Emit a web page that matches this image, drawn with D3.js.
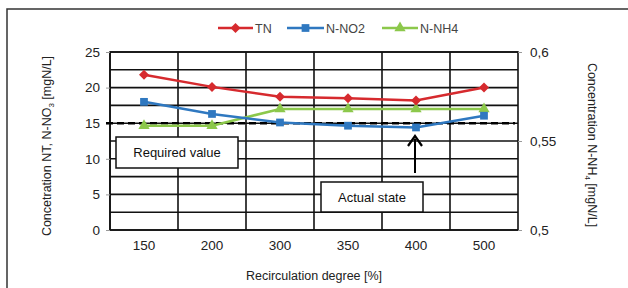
<!DOCTYPE html>
<html><head><meta charset="utf-8">
<script src="https://cdn.jsdelivr.net/npm/d3@7"></script>
<style>body{margin:0;background:#fff}svg{display:block;font-family:"Liberation Sans",Arial,sans-serif}</style>
</head><body><svg id="c" width="628" height="288"></svg>
<script>
const categories = ["150","200","300","350","400","500"];
const tnValues = [21.8, 20.1, 18.7, 18.5, 18.2, 20.0];
const no2Values = [18.0, 16.3, 15.1, 14.65, 14.4, 16.05];
const nh4Values = [0.5586, 0.5586, 0.568, 0.568, 0.568, 0.568];
const leftTicks = [0, 5, 10, 15, 20, 25];
const rightTicks = [0.5, 0.55, 0.6];
const requiredValue = 15;

const svg = d3.select("#c");
const L = 110, R = 518, T = 52, B = 230;
const x = d3.scaleBand().domain(categories).range([L, R]);
const yL = d3.scaleLinear().domain([0, 25]).range([B, T]);
const yR = d3.scaleLinear().domain([0.5, 0.6]).range([B, T]);

// outer frame
svg.append("path").attr("d", "M7,290 V9 H628").attr("fill", "none").attr("stroke", "#333").attr("stroke-width", 1.5);

const g = svg.append("g");
d3.range(0, 25.01, 2.5).forEach(v => {
  g.append("line").attr("x1", L).attr("x2", R).attr("y1", yL(v)).attr("y2", yL(v))
    .attr("stroke", "#111").attr("stroke-width", 1.6);
});
categories.forEach((c, i) => {
  g.append("line").attr("x1", x(c)).attr("x2", x(c)).attr("y1", T).attr("y2", B)
    .attr("stroke", "#111").attr("stroke-width", 1.6);
});
g.append("rect").attr("x", L).attr("y", T).attr("width", R - L).attr("height", B - T)
  .attr("fill", "none").attr("stroke", "#111").attr("stroke-width", 1.6);

// axes
const axL = svg.append("g").attr("transform", `translate(${L},0)`)
  .call(d3.axisLeft(yL).tickValues(leftTicks).tickSize(4).tickPadding(6).tickFormat(d3.format("d")));
const axR = svg.append("g").attr("transform", `translate(${R},0)`)
  .call(d3.axisRight(yR).tickValues(rightTicks).tickSize(4).tickPadding(8).tickFormat(d => String(d).replace(".", ",")));
const axB = svg.append("g").attr("transform", `translate(0,${B})`)
  .call(d3.axisBottom(x).tickSize(0).tickPadding(10));
[axL, axR, axB].forEach(a => {
  a.select(".domain").remove();
  a.selectAll("text").attr("font-size", 13.5).attr("fill", "#222").attr("font-family", "Liberation Sans, Arial, sans-serif");
  a.selectAll("line").attr("stroke", "#999");
});

// required value dashed line
svg.append("line").attr("x1", L - 4).attr("x2", R - 3).attr("y1", yL(requiredValue)).attr("y2", yL(requiredValue))
  .attr("stroke", "#000").attr("stroke-width", 2.5).attr("stroke-dasharray", "7,4");

// series
const cx = c => x(c) + x.bandwidth() / 2;
const series = [
  {name: "TN", color: "#d62a2e", vals: tnValues, y: yL, sym: d3.symbolSquare, size: 50, rot: 45},
  {name: "N-NO2", color: "#2f78c0", vals: no2Values, y: yL, sym: d3.symbolSquare, size: 60, rot: 0},
  {name: "N-NH4", color: "#8cc84b", vals: nh4Values, y: yR, sym: d3.symbolTriangle, size: 55, rot: 0}
];
const order = [series[2], series[1], series[0]];
order.forEach(s => {
  const line = d3.line().x((d, i) => cx(categories[i])).y(d => s.y(d));
  svg.append("path").datum(s.vals).attr("d", line).attr("fill", "none")
    .attr("stroke", s.color).attr("stroke-width", 2.5);
  svg.selectAll(null).data(s.vals).enter().append("path")
    .attr("d", d3.symbol().type(s.sym).size(s.size))
    .attr("transform", (d, i) => `translate(${cx(categories[i])},${s.y(d)}) rotate(${s.rot})`)
    .attr("fill", s.color);
});

// annotation boxes
function box(x0, y0, w, h, text) {
  svg.append("rect").attr("x", x0).attr("y", y0).attr("width", w).attr("height", h)
    .attr("fill", "#fff").attr("stroke", "#111").attr("stroke-width", 1.5);
  svg.append("text").attr("x", x0 + w / 2).attr("y", y0 + h / 2 + 4.5).attr("text-anchor", "middle")
    .attr("font-size", 13).attr("fill", "#111").text(text);
}
box(116, 137, 122, 31, "Required value");
box(321, 182, 102, 30, "Actual state");

// arrow
svg.append("line").attr("x1", 415).attr("x2", 415).attr("y1", 173).attr("y2", 139)
  .attr("stroke", "#000").attr("stroke-width", 2);
svg.append("path").attr("d", "M408,146 L415,136 L422,146").attr("fill", "none")
  .attr("stroke", "#000").attr("stroke-width", 2.2);

// legend
const leg = [{s: series[0], x0: 218, x1: 253}, {s: series[1], x0: 287, x1: 324}, {s: series[2], x0: 382, x1: 418}];
leg.forEach(l => {
  const ly = 28;
  svg.append("line").attr("x1", l.x0).attr("x2", l.x1).attr("y1", ly).attr("y2", ly)
    .attr("stroke", l.s.color).attr("stroke-width", 2.5);
  svg.append("path").attr("d", d3.symbol().type(l.s.sym).size(l.s.size)())
    .attr("transform", `translate(${(l.x0 + l.x1) / 2},${ly}) rotate(${l.s.rot})`).attr("fill", l.s.color);
  svg.append("text").attr("x", l.x1 + 2).attr("y", ly + 4.5).attr("font-size", 12.5).attr("fill", "#444").text(l.s.name);
});

// axis titles
const lt = svg.append("text").attr("transform", "translate(51,146) rotate(-90)").attr("text-anchor", "middle")
  .attr("font-size", 12.5).attr("fill", "#222");
lt.append("tspan").text("Concetration  NT, N-NO");
lt.append("tspan").attr("font-size", 8).attr("dy", 3).text("3");
lt.append("tspan").attr("dy", -3).text(" [mgN/L]");

const rt = svg.append("text").attr("transform", "translate(588,145) rotate(90)").attr("text-anchor", "middle")
  .attr("font-size", 12.5).attr("fill", "#222");
rt.append("tspan").text("Concentration N-NH");
rt.append("tspan").attr("font-size", 8).attr("dy", 3).text("4");
rt.append("tspan").attr("dy", -3).text(" [mgN/L]");

svg.append("text").attr("x", 314).attr("y", 280).attr("text-anchor", "middle")
  .attr("font-size", 12.5).attr("fill", "#222").text("Recirculation degree [%]");
</script></body></html>
